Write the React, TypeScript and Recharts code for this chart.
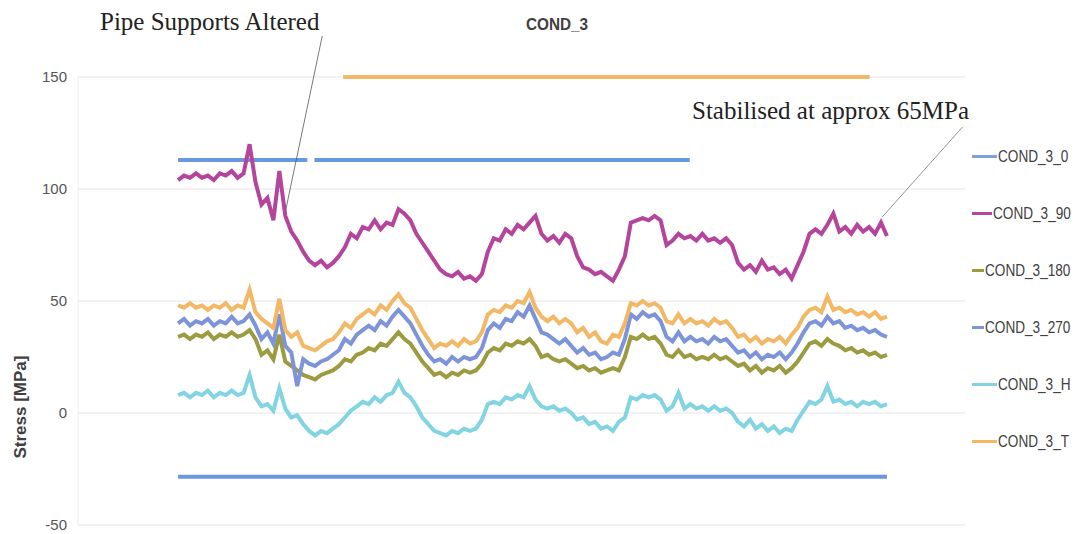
import { LineChart, Line, XAxis, YAxis, CartesianGrid, ReferenceLine, Legend } from "recharts"

// readings, one per sample step (120 steps across the record)
const cond90 = [
  104, 106, 105, 107, 105, 106, 104, 107, 106, 108, 105, 107,
  120, 103, 93, 96, 86, 108, 88, 81, 77, 72, 68, 66, 68, 65, 67, 70, 74, 80,
  78, 83, 82, 86, 82, 85, 84, 91, 89, 86, 80, 76, 72, 68, 64, 62, 61, 63, 60, 61,
  59, 62, 72, 78, 77, 82, 80, 84, 82, 85, 88, 80, 77, 79, 76, 80, 78, 70, 65, 64,
  62, 63, 61, 59, 64, 70, 85, 86, 87, 86, 88, 86, 75, 77, 80, 78, 79, 77, 80, 77,
  78, 76, 78, 75, 67, 64, 66, 63, 68, 64, 65, 62, 64, 60, 66, 72, 80, 82, 80, 84,
  89, 81, 83, 80, 84, 81, 83, 80, 85, 79,
]
const cond180 = [
  34, 35, 33, 35, 34, 36, 33, 35, 34, 36, 34, 35,
  37, 33, 26, 28, 24, 35, 23, 21, 19, 17, 16, 15, 17, 18, 19, 21, 24, 23,
  26, 27, 29, 28, 31, 30, 33, 36, 33, 31, 27, 23, 20, 17, 18, 16, 18, 17, 19, 18,
  19, 22, 27, 29, 28, 31, 30, 32, 31, 33, 30, 25, 26, 24, 23, 24, 22, 20, 21, 19,
  20, 18, 19, 20, 19, 25, 34, 33, 35, 33, 34, 31, 26, 25, 28, 25, 26, 24, 25, 24,
  26, 24, 25, 23, 21, 22, 19, 21, 18, 20, 19, 21, 18, 20, 23, 27, 31, 32, 30, 33,
  31, 30, 28, 29, 27, 28, 26, 27, 25, 26,
]
const cond270 = [
  40, 42, 39, 41, 40, 42, 39, 41, 40, 43, 40, 41,
  44, 39, 33, 36, 31, 44, 30, 27, 12, 24, 22, 21, 23, 24, 26, 28, 33, 31,
  35, 37, 39, 37, 41, 39, 43, 46, 43, 40, 35, 30, 26, 23, 24, 22, 25, 23, 25, 24,
  25, 29, 37, 40, 38, 42, 41, 45, 43, 48, 42, 36, 35, 33, 31, 33, 30, 27, 29, 26,
  27, 24, 25, 27, 26, 33, 44, 42, 45, 43, 44, 41, 34, 32, 36, 32, 34, 32, 33, 31,
  34, 32, 33, 30, 27, 28, 25, 27, 24, 26, 25, 27, 24, 27, 31, 36, 40, 41, 39, 43,
  40, 41, 38, 39, 37, 38, 36, 37, 35, 34,
]
const condH = [
  8, 9, 7, 9, 8, 10, 7, 9, 8, 10, 8, 9,
  17, 7, 3, 4, 1, 11, 2, -2, -1, -5, -8, -10, -8, -9, -7, -5, -2, 1,
  3, 5, 4, 7, 5, 8, 9, 14, 9, 7, 3, -2, -5, -8, -9, -10, -8, -9, -7, -8,
  -7, -3, 4, 5, 4, 7, 6, 8, 7, 12, 6, 3, 2, 3, 1, 2, 0, -3, -2, -5,
  -4, -7, -6, -8, -4, -2, 7, 6, 8, 7, 8, 6, 1, 3, 9, 2, 4, 2, 3, 1,
  3, 1, 2, 0, -4, -6, -3, -7, -5, -8, -6, -9, -7, -8, -3, 1, 5, 4, 6, 12,
  5, 6, 4, 5, 3, 5, 4, 5, 3, 4,
]
const condT = [
  48, 47, 49, 47, 48, 46, 48, 47, 49, 46, 48, 47,
  55, 45, 42, 40, 38, 51, 37, 34, 36, 30, 29, 28, 30, 32, 33, 36, 40, 38,
  42, 44, 46, 44, 48, 46, 50, 53, 49, 47, 42, 37, 33, 29, 31, 30, 32, 30, 33, 31,
  32, 36, 44, 46, 45, 48, 47, 50, 49, 54, 47, 43, 41, 43, 40, 42, 40, 36, 38, 34,
  36, 32, 31, 35, 34, 40, 49, 48, 50, 48, 49, 47, 41, 40, 44, 40, 42, 40, 41, 39,
  42, 40, 41, 38, 34, 35, 32, 34, 31, 33, 32, 34, 31, 35, 38, 43, 46, 47, 45, 52,
  46, 47, 45, 46, 44, 45, 43, 45, 42, 43,
]

const yTicks = [-50, 0, 50, 100, 150]
const legendNames = ["COND_3_0", "COND_3_90", "COND_3_180", "COND_3_270", "COND_3_H", "COND_3_T"]

// flat limit bars: level and start/end sample step
const limitLevel = [150, 113, 113, -28.5]
const limitFrom = [27.7, 0, 22.9, 0]
const limitTo = [116.1, 21.7, 85.9, 119]

const SANS = "'Liberation Sans', Arial, sans-serif"
const SERIF = "'Liberation Serif', 'Times New Roman', serif"
const COLORS = ["#7fa0dc", "#b5459c", "#9d9b40", "#7d95d8", "#82d4e2", "#f3b866"]
const LIMIT_COLORS = ["#f3b866", "#6a97e2", "#6a97e2", "#6a97e2"]

function LegendBox() {
  return (
    <div style={{ fontFamily: SANS }}>
      {legendNames.map((n, k) => (
        <div key={n} style={{ display: "flex", alignItems: "center", height: 57 }}>
          <span style={{ display: "inline-block", width: 25, height: 3, background: COLORS[k], marginRight: 1 }} />
          <span style={{ display: "inline-block", fontSize: 16, color: "#404040", transform: "scaleX(0.85)", transformOrigin: "left center", whiteSpace: "nowrap" }}>{n}</span>
        </div>
      ))}
    </div>
  )
}

export default function App() {
  const data = cond90.map((v, i) => ({
    i,
    c90: v,
    c180: cond180[i],
    c270: cond270[i],
    cH: condH[i],
    cT: condT[i],
  }))

  return (
    <div style={{ position: "absolute", left: 0, top: 0, width: 1085, height: 534, background: "#fff" }}>
      <LineChart width={1085} height={534} data={data} margin={{ top: 77, right: 120, bottom: 9, left: 0 }}>
        <CartesianGrid vertical={false} stroke="#e4e5ee" />
        <XAxis dataKey="i" type="number" domain={[-16.8, 132.1]} allowDataOverflow hide />
        <YAxis
          domain={[-50, 150]}
          ticks={yTicks}
          width={78}
          tickLine={false}
          axisLine={{ stroke: "#efeff4" }}
          tickMargin={5}
          tick={{ fill: "#555", fontSize: 15, fontFamily: SANS }}
        />
        {limitLevel.map((lv, k) => (
          <ReferenceLine
            key={k}
            segment={[{ x: limitFrom[k], y: lv }, { x: limitTo[k], y: lv }]}
            stroke={LIMIT_COLORS[k]}
            strokeWidth={4}
          />
        ))}
        <ReferenceLine segment={[{ x: 24.2, y: 168.3 }, { x: 18, y: 89.7 }]} stroke="#555" strokeWidth={0.8} ifOverflow="visible" />
        <ReferenceLine segment={[{ x: 131.7, y: 127.7 }, { x: 118.2, y: 87.5 }]} stroke="#777" strokeWidth={0.8} ifOverflow="visible" />
        <Line dataKey="c90" stroke={COLORS[1]} strokeWidth={4} dot={false} isAnimationActive={false} />
        <Line dataKey="c180" stroke={COLORS[2]} strokeWidth={4} dot={false} isAnimationActive={false} />
        <Line dataKey="c270" stroke={COLORS[3]} strokeWidth={4} dot={false} isAnimationActive={false} />
        <Line dataKey="cH" stroke={COLORS[4]} strokeWidth={4} dot={false} isAnimationActive={false} />
        <Line dataKey="cT" stroke={COLORS[5]} strokeWidth={4} dot={false} isAnimationActive={false} />
        <Legend
          layout="horizontal"
          verticalAlign="middle"
          align="center"
          content={() => <LegendBox />}
          wrapperStyle={{ position: "absolute", left: 972, top: 128, width: 113 }}
        />
      </LineChart>

      <div style={{ position: "absolute", left: 526, top: 15, fontFamily: SANS, fontWeight: "bold", fontSize: 17, color: "#404040", transform: "scaleX(0.9)", transformOrigin: "left top" }}>
        COND_3
      </div>
      <div style={{ position: "absolute", left: 100, top: 8, fontFamily: SERIF, fontSize: 25, color: "#222", whiteSpace: "nowrap" }}>
        Pipe Supports Altered
      </div>
      <div style={{ position: "absolute", left: 692, top: 97, fontFamily: SERIF, fontSize: 25, color: "#222", whiteSpace: "nowrap" }}>
        Stabilised at approx 65MPa
      </div>
      <div
        style={{
          position: "absolute",
          left: 21,
          top: 407,
          transform: "translate(-50%, -50%) rotate(-90deg)",
          fontFamily: SANS,
          fontWeight: "bold",
          fontSize: 17,
          color: "#404040",
          whiteSpace: "nowrap",
        }}
      >
        Stress [MPa]
      </div>
    </div>
  )
}
